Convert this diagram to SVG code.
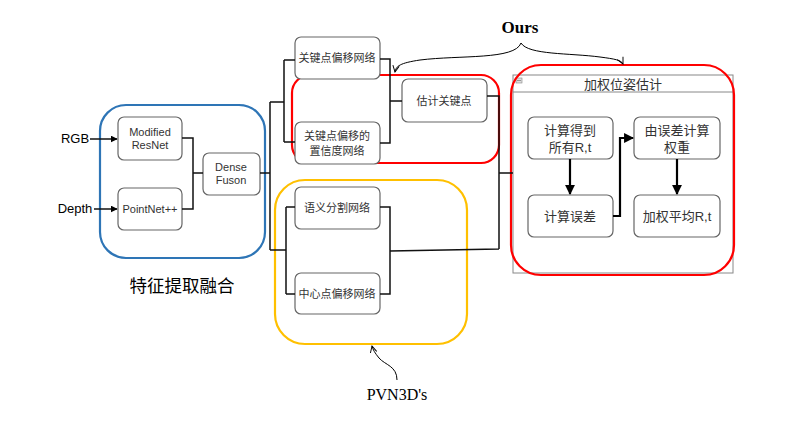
<svg xmlns="http://www.w3.org/2000/svg" width="805" height="428" viewBox="0 0 805 428">
<style>
.box{fill:#fff;stroke:#666;stroke-width:1.2}
.t{font-family:"Liberation Sans","Noto Sans CJK SC",sans-serif;font-size:11px;fill:#333;text-anchor:middle}
.r{font-size:13px}
.c{fill:none;stroke:#111;stroke-width:1.5}
.a{fill:none;stroke:#000;stroke-width:2.2}
.serif{font-family:"Liberation Serif",serif;fill:#000;text-anchor:middle}
</style>
<defs>
<marker id="ah" viewBox="0 0 10 10" refX="9" refY="5" markerWidth="7" markerHeight="7" markerUnits="userSpaceOnUse" orient="auto"><path d="M0,0L10,5L0,10Z" fill="#000"/></marker>
<marker id="ahb" viewBox="0 0 10 10" refX="9" refY="5" markerWidth="4.5" markerHeight="4.5" orient="auto"><path d="M0,0L10,5L0,10Z" fill="#000"/></marker>
<marker id="open" viewBox="0 0 10 10" refX="9" refY="5" markerWidth="8" markerHeight="8" markerUnits="userSpaceOnUse" orient="auto"><path d="M1,1L9,5L1,9" fill="none" stroke="#000" stroke-width="1.2"/></marker>
</defs>
<rect width="805" height="428" fill="#fff"/>

<g id="feature-group">
<rect x="100" y="105" width="165" height="153" rx="26" fill="none" stroke="#2E75B6" stroke-width="2.2"/>
<text x="182" y="292" font-family="'Noto Sans CJK SC',sans-serif" font-size="17.5" text-anchor="middle" fill="#000">特征提取融合</text>
</g>
<g id="rgb"><text x="75" y="143" class="t" style="font-size:13px;fill:#000">RGB</text></g>
<g id="depth"><text x="75" y="213" class="t" style="font-size:13px;fill:#000">Depth</text></g>
<g id="resnet"><rect class="box" x="118" y="117" width="64" height="43" rx="6"/><text class="t" x="150" y="136">Modified</text><text class="t" x="150" y="149">ResNet</text></g>
<g id="pointnet"><rect class="box" x="118" y="188" width="64" height="42" rx="6"/><text class="t" x="150" y="213">PointNet++</text></g>
<g id="densefuson"><rect class="box" x="203" y="153" width="57" height="42" rx="6"/><text class="t" x="231" y="171">Dense</text><text class="t" x="231" y="184">Fuson</text></g>

<g id="ours-group">
<rect x="292" y="75" width="207" height="88" rx="18" fill="none" stroke="#F00" stroke-width="2.2"/>
<text class="serif" x="520" y="33" font-size="17" font-weight="bold">Ours</text>
</g>
<g id="kp-offset"><rect class="box" x="295" y="37" width="85" height="42" rx="6"/><text class="t" x="337" y="62">关键点偏移网络</text></g>
<g id="kp-conf"><rect class="box" x="295" y="122" width="85" height="42" rx="6"/><text class="t" x="337" y="140">关键点偏移的</text><text class="t" x="337" y="155">置信度网络</text></g>
<g id="est-kp"><rect class="box" x="402" y="79" width="85" height="43" rx="6"/><text class="t" x="444" y="105">估计关键点</text></g>

<g id="pvn-group">
<rect x="275" y="180" width="192" height="164" rx="30" fill="none" stroke="#FFC000" stroke-width="2.2"/>
<text class="serif" x="397" y="400" font-size="16">PVN3D's</text>
</g>
<g id="seg"><rect class="box" x="295" y="187" width="85" height="42" rx="6"/><text class="t" x="337" y="212">语义分割网络</text></g>
<g id="center"><rect class="box" x="295" y="273" width="85" height="41" rx="6"/><text class="t" x="337" y="298">中心点偏移网络</text></g>

<g id="pose">
<rect x="513" y="75" width="220" height="198" fill="#fff" stroke="#888" stroke-width="1"/>
<line x1="513" y1="92" x2="733" y2="92" stroke="#888" stroke-width="1"/>
<rect x="516" y="78" width="6" height="5" fill="#ddd" stroke="#888" stroke-width="0.6"/>
<line x1="517" y1="80.5" x2="521" y2="80.5" stroke="#666" stroke-width="0.6"/>
<text class="t r" x="623" y="89">加权位姿估计</text>
<rect x="511" y="65" width="223" height="210" rx="30" fill="none" stroke="#F00" stroke-width="2.2"/>
</g>
<g id="calc-all"><rect class="box" x="528" y="117" width="85" height="42" rx="6"/><text class="t r" x="570" y="135">计算得到</text><text class="t r" x="570" y="152">所有R,t</text></g>
<g id="calc-err"><rect class="box" x="528" y="195" width="85" height="42" rx="6"/><text class="t r" x="570" y="221">计算误差</text></g>
<g id="weight"><rect class="box" x="634" y="117" width="86" height="42" rx="6"/><text class="t r" x="677" y="135">由误差计算</text><text class="t r" x="677" y="152">权重</text></g>
<g id="avg"><rect class="box" x="634" y="195" width="86" height="42" rx="6"/><text class="t r" x="677" y="221">加权平均R,t</text></g>

<g id="connectors">
<path class="c" d="M90,139H117" marker-end="url(#ah)"/>
<path class="c" d="M94,209H117" marker-end="url(#ah)"/>
<path class="c" d="M182,138H193V209H182M193,173H203"/>
<path class="c" d="M260,173H270M270,102V250M270,102H284M284,60V142M284,60H295M284,142H295M270,250H286M286,207V294M286,207H295M286,294H295"/>
<path class="c" d="M380,59H390V143H380M390,101H402"/>
<path class="c" d="M380,207H390V294H380M390,251L499,249M487,96H499V249M499,173H513"/>
<path class="a" d="M570,159V194" marker-end="url(#ahb)"/>
<path class="a" d="M613,216H620V138H633" marker-end="url(#ahb)"/>
<path class="a" d="M677,159V194" marker-end="url(#ahb)"/>
<path fill="none" stroke="#000" stroke-width="1" d="M521,43C515,60 460,55 420,60C400,63 396,66 395,72" marker-end="url(#open)"/>
<path fill="none" stroke="#000" stroke-width="1" d="M521,43C528,55 570,53 600,57C615,59 621,60 623,64" marker-end="url(#open)"/>
<path fill="none" stroke="#000" stroke-width="1" d="M397,380C397,366 385,365 379,358C375,353 373,350 372,346" marker-end="url(#open)"/>
</g>
</svg>
